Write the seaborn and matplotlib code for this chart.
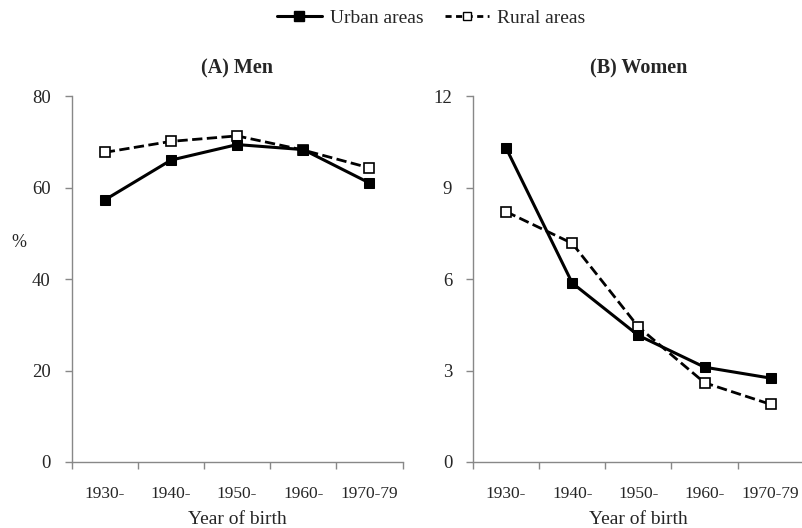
import pandas as pd
import numpy as np
import matplotlib
matplotlib.use("Agg")
import matplotlib.pyplot as plt
import seaborn as sns
from matplotlib.lines import Line2D

# values
cohorts = ["1930-", "1940-", "1950-", "1960-", "1970-79"]
men_urban = [57.3, 66.0, 69.4, 68.3, 61.0]
men_rural = [67.7, 70.1, 71.3, 68.2, 64.3]
women_urban = [10.3, 5.87, 4.15, 3.11, 2.75]
women_rural = [8.21, 7.17, 4.43, 2.60, 1.89]

sns.set_style("white")
plt.rcParams['font.family'] = ['Liberation Serif', 'DejaVu Serif']

fig = plt.figure(figsize=(8.03, 5.28), dpi=100)
ax1 = fig.add_axes([0.0893, 0.125, 0.412, 0.693])
ax2 = fig.add_axes([0.589, 0.125, 0.412, 0.693])

panels = [
    (ax1, men_urban, men_rural, "(A) Men", [0, 20, 40, 60, 80]),
    (ax2, women_urban, women_rural, "(B) Women", [0, 3, 6, 9, 12]),
]

for ax, urban, rural, title, yt in panels:
    df = pd.DataFrame({"cohort": cohorts, "urban": urban, "rural": rural})
    sns.lineplot(data=df, x="cohort", y="rural", ax=ax, color="black",
                 linestyle="--", lw=2, marker="s", markersize=7,
                 markerfacecolor="white", markeredgecolor="black",
                 markeredgewidth=1.2, sort=False)
    sns.lineplot(data=df, x="cohort", y="urban", ax=ax, color="black",
                 lw=2.2, marker="s", markersize=7, markerfacecolor="black",
                 markeredgecolor="black", sort=False)
    ax.set_xlim(-0.5, 4.5)
    ax.set_ylim(yt[0], yt[-1])
    ax.set_yticks(yt)
    ax.set_yticklabels([str(v) for v in yt], fontsize=13.5)
    # ticks between the categories, labels at the centres
    ax.set_xticks(np.arange(-0.5, 5.0, 1.0))
    ax.set_xticklabels([])
    ax.set_xticks(np.arange(5), minor=True)
    ax.set_xticklabels(cohorts, minor=True, fontsize=12.5)
    ax.tick_params(axis="x", which="major", length=5, color="#888888",
                   width=1, direction="out", bottom=True)
    ax.tick_params(axis="x", which="minor", length=0, pad=17)
    ax.tick_params(axis="y", length=5, color="#888888", width=1,
                   direction="out", left=True, pad=10)
    for s in ["top", "right"]:
        ax.spines[s].set_visible(False)
    for s in ["left", "bottom"]:
        ax.spines[s].set_color("#888888")
        ax.spines[s].set_linewidth(1)
    ax.set_xlabel("Year of birth", fontsize=14, labelpad=7)
    ax.set_ylabel("")
    ax.set_title(title, fontsize=14.5, fontweight="bold", pad=16)

ax1.text(-0.16, 0.6, "%", transform=ax1.transAxes, fontsize=13,
         ha="center", va="center")

handles = [
    Line2D([], [], color="black", lw=2.2, marker="s", markersize=7,
           markerfacecolor="black"),
    Line2D([], [], color="black", lw=2, linestyle=(0, (2.2, 1.6)), marker="s",
           markersize=6, markerfacecolor="white"),
]
fig.legend(handles, ["Urban areas", "Rural areas"], loc="upper center",
           bbox_to_anchor=(0.537, 1.015), ncol=2, frameon=False, fontsize=14,
           handlelength=2.3, columnspacing=1.1, handletextpad=0.4)

fig.savefig("out.png", dpi=100)
